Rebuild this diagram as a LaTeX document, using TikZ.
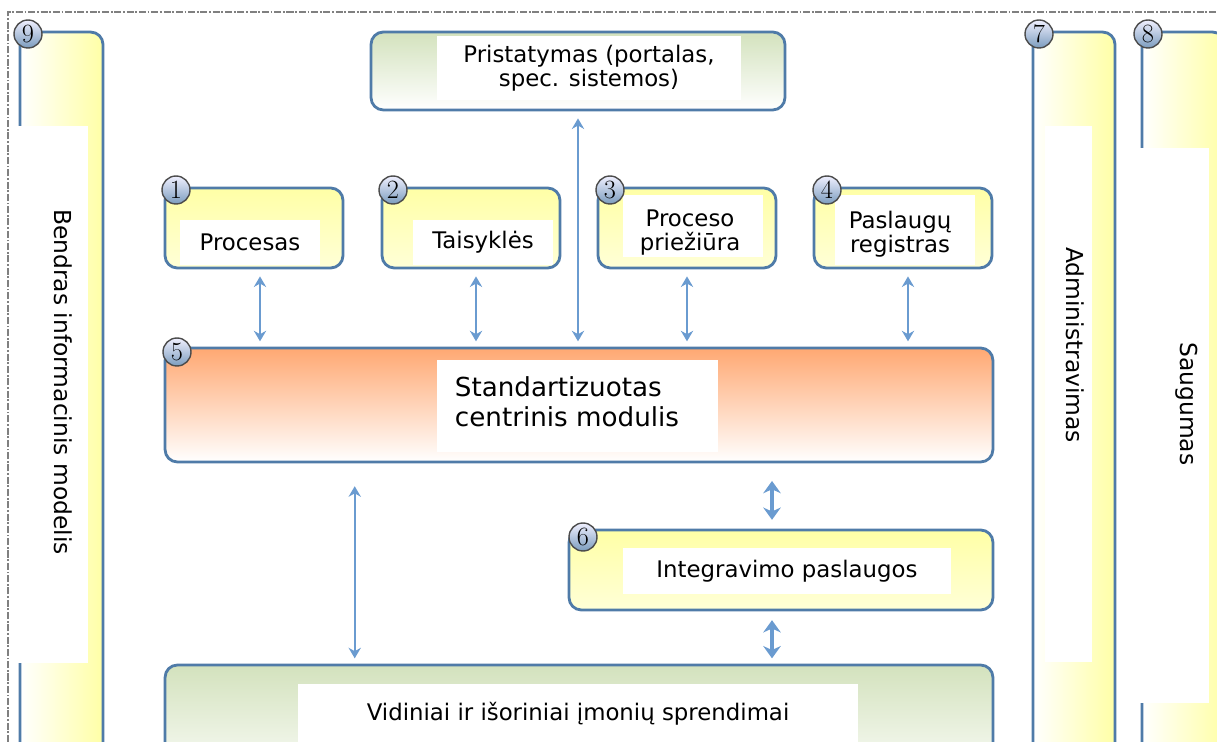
\documentclass[tikz,border=0pt]{standalone}
\usepackage{fontspec}
\setsansfont{DejaVu Sans}
\usetikzlibrary{arrows.meta,calc}
\definecolor{edgeblue}{HTML}{4F7BA8}
\definecolor{linkblue}{HTML}{6A9BD0}
\definecolor{paleyellow}{HTML}{FFFFA6}
\definecolor{paleorange}{HTML}{FFA872}
\definecolor{palegreen}{HTML}{D3E2BD}

\begin{document}
\begin{tikzpicture}[x=0.02cm,y=-0.02cm,
    box/.style = {draw=edgeblue, line width=1.6pt, rounded corners=7pt, inner sep=0pt},
    yellowbox/.style = {box, top color=paleyellow, bottom color=white!55!paleyellow},
    sidebox/.style = {box, left color=white, right color=paleyellow},
    greenbox/.style = {box, top color=palegreen, bottom color=white},
    corebox/.style = {box, top color=paleorange, bottom color=white},
    label/.style = {fill=white, inner sep=0pt, align=center, font=\sffamily\fontsize{13}{13.6}\selectfont},
    sidelabel/.style = {inner sep=0pt, rotate=-90, font=\sffamily\fontsize{13.3}{14}\selectfont},
    badge/.style = {circle, draw=black!70, line width=0.8pt, inner sep=0pt, minimum size=0.56cm,
                    top color=blue!6, bottom color=edgeblue!75, font=\rmfamily\fontsize{15}{15}\selectfont},
    link/.style = {linkblue, line width=1.3pt, shorten <=4pt, shorten >=3pt,
                   {Stealth[length=6pt,width=7pt]}-{Stealth[length=6pt,width=7pt]}},
    fatlink/.style = {link, line width=2.2pt, {Stealth[length=7pt,width=10pt]}-{Stealth[length=7pt,width=10pt]}}]
    \useasboundingbox (0,0) rectangle (1217,742);
    \clip (0,0) rectangle (1217,742);

    % frame
    \draw[gray, line width=0.6pt, dash pattern=on 4pt off 1pt on 1pt off 1pt] (8,742) -- (8,12) -- (1217,12);

    % columns left and right
    \node[sidebox, minimum width=1.66cm, minimum height=14.56cm] (modelis) at (61.5,396) {};
    \node[sidebox, minimum width=1.64cm, minimum height=14.56cm] (admin) at (1074,396) {};
    \node[sidebox, minimum width=1.66cm, minimum height=14.56cm] (saug) at (1183.5,396) {};
    \fill[white] (15,126) rectangle (88,663);
    \fill[white] (1045,126) rectangle (1092,662);
    \fill[white] (1126,148) rectangle (1209,703);
    \node[sidelabel] at (63,382) {Bendras informacinis modelis};
    \node[sidelabel] at (1075,345) {Administravimas};
    \node[sidelabel] at (1187,404) {Saugumas};

    % boxes
    \node[greenbox, minimum width=8.28cm, minimum height=1.56cm] (prist) at (578,71) {};
    \node[yellowbox, minimum width=3.56cm, minimum height=1.6cm] (proc) at (254,228) {};
    \node[yellowbox, minimum width=3.56cm, minimum height=1.6cm] (tais) at (471,228) {};
    \node[yellowbox, minimum width=3.56cm, minimum height=1.6cm] (prie) at (687,228) {};
    \node[yellowbox, minimum width=3.56cm, minimum height=1.6cm] (regi) at (903,228) {};
    \node[corebox, minimum width=16.56cm, minimum height=2.28cm] (modul) at (579,405) {};
    \node[yellowbox, minimum width=8.48cm, minimum height=1.6cm] (integ) at (781,570) {};
    \node[greenbox, minimum width=16.56cm, minimum height=2.5cm] (spren) at (579,727.5) {};

    % labels
    \node[label, minimum width=6.08cm, minimum height=1.28cm] at (589,68) {Pristatymas (portalas,\\spec. sistemos)};
    \node[label, minimum width=2.8cm, minimum height=0.9cm] at (250,242.5) {Procesas};
    \node[label, minimum width=2.8cm, minimum height=0.9cm] at (483,242.5) {Taisyklės};
    \node[label, minimum width=2.8cm, minimum height=1.24cm] at (693,226) {};
    \node[label] at (690,233) {Proceso\\priežiūra};
    \node[label, minimum width=2.8cm, minimum height=1.4cm] at (905,230) {};
    \node[label] at (900,234) {Paslaugų\\registras};
    \node[label, minimum width=5.62cm, minimum height=1.84cm] at (577.5,406) {};
    \node[label, align=left, font=\sffamily\fontsize{14.9}{17}\selectfont] at (567,402) {Standartizuotas\\centrinis modulis};
    \node[label, minimum width=6.56cm, minimum height=0.92cm] at (787,571) {Integravimo paslaugos};
    \node[label, minimum width=11.2cm, minimum height=1.2cm] at (578,714) {Vidiniai ir išoriniai įmonių sprendimai};

    % badges
    \node[badge] at (28,34) {9};
    \node[badge] at (176,190) {1};
    \node[badge] at (393,190) {2};
    \node[badge] at (610,190) {3};
    \node[badge] at (827,190) {4};
    \node[badge] at (177,352) {5};
    \node[badge] at (583,537) {6};
    \node[badge] at (1039,34) {7};
    \node[badge] at (1148,34) {8};

    % links
    \draw[link] ([xshift=0.12cm]proc.south) -- ([xshift=0.12cm]proc.south |- modul.north);
    \draw[link] ([xshift=0.1cm]tais.south) -- ([xshift=0.1cm]tais.south |- modul.north);
    \draw[link] (prist.south) -- (prist.south |- modul.north);
    \draw[link] (prie.south) -- (prie.south |- modul.north);
    \draw[link] ([xshift=0.1cm]regi.south) -- ([xshift=0.1cm]regi.south |- modul.north);
    \draw[link, shorten <=13pt] ($(modul.south west)!.23!(modul.south east)$) coordinate (down)
        -- (down |- spren.north);
    \draw[fatlink, shorten <=10pt, shorten >=5pt] ([xshift=-0.18cm]integ.north |- modul.south) -- ([xshift=-0.18cm]integ.north);
    \draw[fatlink, shorten <=5pt] ([xshift=-0.18cm]integ.south) -- ([xshift=-0.18cm]integ.south |- spren.north);
\end{tikzpicture}
\end{document}
